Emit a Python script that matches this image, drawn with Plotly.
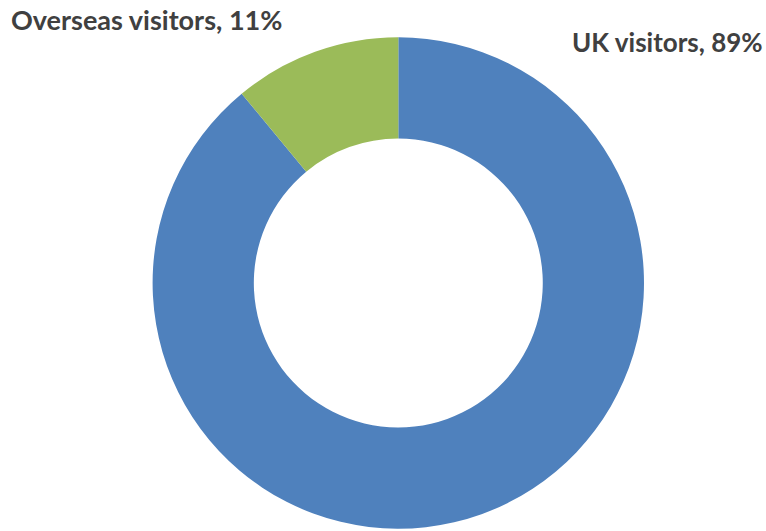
import plotly.graph_objects as go

# Visitor split
categories = ["UK visitors", "Overseas visitors"]
shares = [89, 11]
colors = ["#4F81BD", "#9BBB59"]

W, H = 766, 531
cx, cy, r = 398.3, 283.0, 245.7  # pie centre and radius in pixels (from top-left)

fig = go.Figure(go.Pie(
    labels=categories,
    values=shares,
    hole=0.588,
    sort=False,
    direction="clockwise",
    rotation=0,
    marker=dict(colors=colors, line=dict(width=0)),
    textinfo="none",
    hoverinfo="label+percent",
    showlegend=False,
    domain=dict(x=[(cx - r) / W, (cx + r) / W],
                y=[(H - cy - r) / H, (H - cy + r) / H]),
))

# anchor edge x, anchor side, vertical centre y (pixels from top-left), font size
label_pos = {
    "UK visitors": (764, "right", 42, 26),
    "Overseas visitors": (10, "left", 20, 27),
}
for name, val in zip(categories, shares):
    x, anchor, y, size = label_pos[name]
    fig.add_annotation(
        text=f"{name}, {val}%",
        x=x / W, y=1 - y / H, xref="paper", yref="paper",
        xanchor=anchor, yanchor="middle", showarrow=False,
        borderpad=0,
        font=dict(family="Lato", size=size, color="#404040", weight="bold"),
    )

fig.update_layout(
    width=W, height=H,
    margin=dict(l=0, r=0, t=0, b=0),
    paper_bgcolor="white",
    plot_bgcolor="white",
)

fig.write_html("out.html")
